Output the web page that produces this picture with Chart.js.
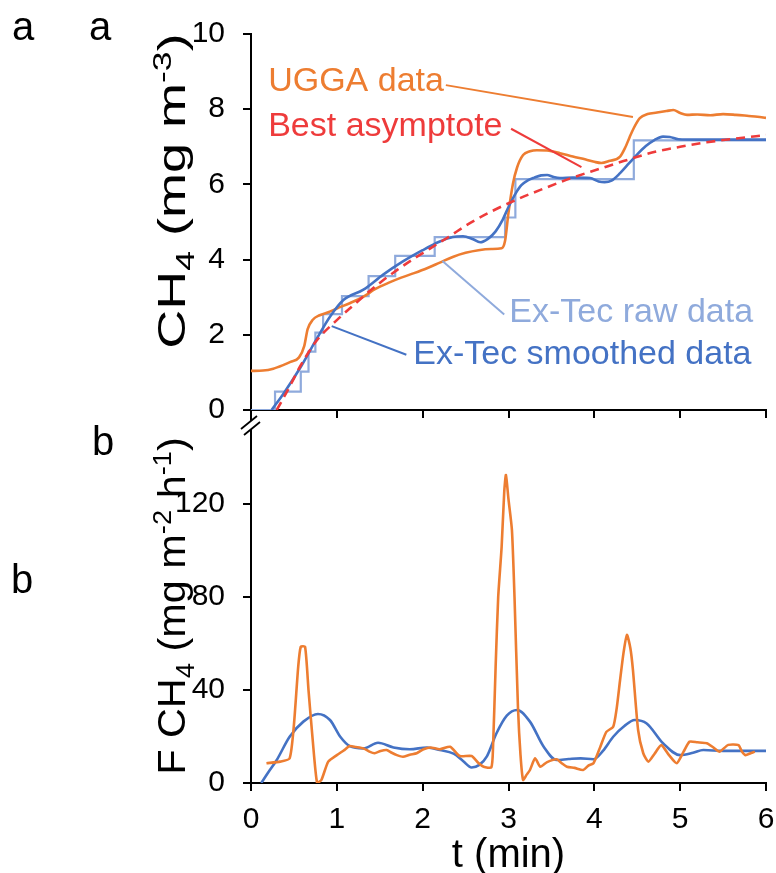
<!DOCTYPE html>
<html>
<head>
<meta charset="utf-8">
<script src="https://cdn.jsdelivr.net/npm/chart.js@4.4.1/dist/chart.umd.min.js"></script>
<style>
  html, body { margin: 0; padding: 0; background: #fff; }
  #wrap { position: relative; width: 776px; height: 873px; overflow: hidden; font-family: "Liberation Sans", Arial, sans-serif; }
  #wrap canvas { position: absolute; left: 0; }
  .panel { position: absolute; font-size: 40px; line-height: 1; color: #000; }
  .ytitle { position: absolute; font-size: 38px; line-height: 1; white-space: nowrap; color: #000; }
  .ytitle sub, .ytitle sup { font-size: 0.66em; line-height: 0; }
</style>
</head>
<body>
<div id="wrap">
  <canvas id="topChart" width="776" height="440" style="top:0"></canvas>
  <canvas id="fluxChart" width="776" height="461" style="top:412px"></canvas>
  <div class="panel" style="left:12px; top:6px">a</div>
  <div class="panel" style="left:89px; top:6px">a</div>
  <div class="panel" style="left:92px; top:421px">b</div>
  <div class="panel" style="left:11px; top:559px">b</div>
  <div class="ytitle" style="left:172px; top:191px; transform: translate(-50%, -50%) rotate(-90deg) scaleX(1.42)">CH<sub>4</sub> (mg m<sup>-3</sup>)</div>
  <div class="ytitle" style="left:172px; top:606px; transform: translate(-50%, -50%) rotate(-90deg) scaleX(1.09)">F CH<sub>4</sub> (mg m<sup>-2</sup> h<sup>-1</sup>)</div>
</div>
<script>
// time axis (min)
const xTicks = [0, 1, 2, 3, 4, 5, 6];
const concTicks = [0, 2, 4, 6, 8, 10];
const fluxTicks = [0, 40, 80, 120];

// panel a: CH4 concentration (mg m-3)
const uggaT = [0, 0.14, 0.26, 0.38, 0.46, 0.56, 0.62, 0.66, 0.72, 0.8, 0.9, 1.0, 1.15, 1.3, 1.45, 1.6, 1.75, 1.9, 2.05, 2.2, 2.35, 2.5, 2.65, 2.8, 2.92, 2.96, 3.0, 3.05, 3.1, 3.17, 3.25, 3.33, 3.45, 3.6, 3.75, 3.9, 4.0, 4.08, 4.17, 4.3, 4.36, 4.41, 4.46, 4.53, 4.62, 4.73, 4.84, 4.92, 5.0, 5.08, 5.2, 5.35, 5.5, 5.65, 5.8, 5.9, 6.0];
const uggaV = [1.04, 1.05, 1.1, 1.2, 1.28, 1.4, 1.7, 2.15, 2.4, 2.52, 2.6, 2.7, 2.84, 3.0, 3.22, 3.38, 3.52, 3.64, 3.77, 3.92, 4.07, 4.18, 4.25, 4.28, 4.3, 4.5, 5.25, 6.0, 6.45, 6.78, 6.88, 6.91, 6.9, 6.83, 6.74, 6.66, 6.6, 6.57, 6.62, 6.74, 6.98, 7.25, 7.5, 7.76, 7.87, 7.91, 7.95, 7.98, 7.9, 7.85, 7.86, 7.84, 7.87, 7.85, 7.82, 7.8, 7.77];

const rawT = [0, 0.28, 0.58, 0.67, 0.75, 0.84, 1.06, 1.37, 1.68, 2.14, 2.96, 3.08, 4.46, 6.0];
const rawV = [0, 0.49, 1.02, 1.55, 2.06, 2.55, 3.03, 3.56, 4.1, 4.6, 5.12, 6.14, 7.17, 7.17];

const smoothT = [0.24, 0.38, 0.57, 0.77, 0.92, 1.08, 1.31, 1.54, 1.77, 2.0, 2.2, 2.35, 2.47, 2.58, 2.67, 2.76, 2.85, 2.93, 3.0, 3.08, 3.15, 3.22, 3.3, 3.38, 3.45, 3.52, 3.6, 3.75, 3.95, 4.05, 4.12, 4.2, 4.3, 4.4, 4.5, 4.6, 4.7, 4.8, 4.88, 4.98, 5.2, 5.5, 6.0];
const smoothV = [0, 0.44, 1.11, 1.91, 2.48, 2.93, 3.2, 3.6, 3.95, 4.25, 4.48, 4.6, 4.62, 4.55, 4.46, 4.55, 4.75, 5.05, 5.4, 5.75, 5.98, 6.1, 6.18, 6.24, 6.25, 6.2, 6.17, 6.18, 6.17, 6.08, 6.06, 6.1, 6.3, 6.55, 6.8, 7.02, 7.18, 7.27, 7.26, 7.2, 7.19, 7.19, 7.19];

const asymT = [0.3, 0.45, 0.57, 0.77, 1.0, 1.2, 1.35, 1.5, 1.7, 1.9, 2.09, 2.3, 2.55, 2.8, 3.13, 3.4, 3.72, 4.07, 4.34, 4.73, 5.0, 5.31, 5.65, 6.0];
const asymV = [0, 0.62, 1.15, 1.86, 2.39, 2.8, 3.1, 3.38, 3.72, 4.03, 4.3, 4.6, 4.97, 5.28, 5.63, 5.88, 6.16, 6.42, 6.62, 6.88, 7.0, 7.12, 7.22, 7.31];

// panel b: CH4 flux (mg m-2 h-1)
const fluxUggaT = [0.18, 0.34, 0.45, 0.5, 0.55, 0.58, 0.63, 0.67, 0.72, 0.77, 0.82, 0.9, 1.0, 1.08, 1.15, 1.22, 1.31, 1.38, 1.44, 1.51, 1.58, 1.64, 1.7, 1.77, 1.85, 1.93, 2.01, 2.09, 2.2, 2.32, 2.43, 2.57, 2.65, 2.71, 2.8, 2.82, 2.85, 2.88, 2.92, 2.95, 2.97, 3.0, 3.04, 3.07, 3.11, 3.14, 3.17, 3.21, 3.25, 3.31, 3.37, 3.45, 3.56, 3.62, 3.68, 3.77, 3.87, 3.93, 3.99, 4.07, 4.14, 4.22, 4.26, 4.3, 4.34, 4.38, 4.42, 4.45, 4.51, 4.57, 4.63, 4.7, 4.78, 4.87, 4.96, 5.04, 5.11, 5.2, 5.31, 5.38, 5.46, 5.56, 5.68, 5.72, 5.76, 5.82, 5.87];
const fluxUggaV = [8.5, 9.2, 10.6, 25, 50, 58.6, 58.6, 40, 18, 0, 1.3, 9.2, 12, 14, 15.9, 15.5, 14.9, 13.5, 12.8, 13.8, 14.2, 13, 12, 11.3, 12.2, 12.8, 14.5, 15.3, 14.5, 15.6, 11.6, 11.6, 8.6, 7, 6.7, 15.6, 50, 80, 101.6, 125, 132.5, 122, 108.8, 80, 32.8, 12, 1.3, 3.5, 5.6, 10.6, 7, 9, 10.2, 8.5, 7, 6.5, 5.6, 7.5, 8.5, 15.6, 22, 24.2, 32, 44.3, 56, 63.7, 58, 48.6, 22.8, 12.8, 9.2, 12.5, 16.3, 12, 8.5, 13.5, 17.8, 17.5, 17.1, 15.5, 13.5, 16.4, 16.3, 13.5, 12, 12.8, 13.5];

const fluxSmoothT = [0.12, 0.2, 0.3, 0.45, 0.61, 0.78, 0.92, 1.04, 1.15, 1.31, 1.48, 1.66, 1.85, 2.05, 2.2, 2.36, 2.47, 2.57, 2.66, 2.75, 2.86, 2.98, 3.1, 3.25, 3.41, 3.56, 3.7, 3.84, 3.99, 4.1, 4.22, 4.35, 4.47, 4.61, 4.8, 5.0, 5.15, 5.27, 5.5, 6.0];
const fluxSmoothV = [0, 4.5, 9.9, 19.9, 26.4, 29.7, 27.1, 19.9, 15.9, 14.9, 17.3, 15.3, 14.5, 15.3, 14.2, 12.6, 9.5, 6.7, 7.8, 11.6, 21.4, 29, 31.4, 26.4, 15.6, 9.9, 10.3, 10.6, 10.2, 13.8, 19.9, 24.5, 27.1, 25.6, 17.1, 12, 13, 14.2, 13.8, 13.8];

const ORANGE = '#ED7D31';
const BLUE = '#4472C4';
const LIGHT = '#8FAADC';
const RED = '#EE3B3B';
const FONT = '"Liberation Sans", Arial, sans-serif';

// callouts on panel a, in data units
const callouts = [
  { text: 'UGGA data', color: ORANGE, at: [0.2, 8.73], from: [2.27, 8.64], to: [4.45, 7.79] },
  { text: 'Best asymptote', color: RED, at: [0.2, 7.53], from: [3.03, 7.48], to: [3.85, 6.46] },
  { text: 'Ex-Tec raw data', color: LIGHT, at: [3.01, 2.58], from: [2.95, 2.54], to: [2.23, 3.96] },
  { text: 'Ex-Tec smoothed data', color: BLUE, at: [1.89, 1.47], from: [1.81, 1.47], to: [0.94, 2.23] }
];

function pts(ts, vs) {
  return ts.map((t, i) => ({ x: t, y: vs[i] }));
}

const calloutPlugin = {
  id: 'callouts',
  afterDatasetsDraw(chart) {
    const { ctx, scales: { x, y } } = chart;
    ctx.save();
    ctx.font = '34px ' + FONT;
    ctx.textBaseline = 'middle';
    callouts.forEach(c => {
      ctx.strokeStyle = c.color;
      ctx.lineWidth = 2;
      ctx.beginPath();
      ctx.moveTo(x.getPixelForValue(c.from[0]), y.getPixelForValue(c.from[1]));
      ctx.lineTo(x.getPixelForValue(c.to[0]), y.getPixelForValue(c.to[1]));
      ctx.stroke();
      ctx.fillStyle = c.color;
      ctx.fillText(c.text, x.getPixelForValue(c.at[0]), y.getPixelForValue(c.at[1]));
    });
    ctx.restore();
  }
};

// axis break marks under panel a
const breakPlugin = {
  id: 'axisBreak',
  afterDraw(chart) {
    const { ctx, chartArea: { left, bottom } } = chart;
    ctx.save();
    ctx.strokeStyle = '#000';
    ctx.lineWidth = 2;
    ctx.beginPath();
    ctx.moveTo(left, bottom);
    ctx.lineTo(left, bottom + 23);
    ctx.stroke();
    ctx.fillStyle = '#fff';
    ctx.beginPath();
    ctx.moveTo(left - 10, bottom + 19);
    ctx.lineTo(left + 6, bottom + 6);
    ctx.lineTo(left + 9, bottom + 12);
    ctx.lineTo(left - 7, bottom + 25);
    ctx.closePath();
    ctx.fill();
    ctx.lineWidth = 1.8;
    ctx.beginPath();
    ctx.moveTo(left - 10, bottom + 19);
    ctx.lineTo(left + 6, bottom + 6);
    ctx.moveTo(left - 7, bottom + 25);
    ctx.lineTo(left + 9, bottom + 12);
    ctx.stroke();
    ctx.restore();
  }
};

const axisLines = {
  grid: { drawOnChartArea: false, drawTicks: true, tickLength: 8, color: '#000', lineWidth: 2 },
  border: { display: true, color: '#000', width: 2 }
};

function fixX(h) {
  return s => { s.height = h; s.paddingLeft = 0; s.paddingRight = 0; };
}
function fixY(s) {
  s.width = 251; s.paddingTop = 0; s.paddingBottom = 0;
}

new Chart(document.getElementById('topChart'), {
  type: 'line',
  data: {
    datasets: [
      { label: 'Best asymptote', data: pts(asymT, asymV), borderColor: RED, borderWidth: 2.6, borderDash: [9, 6], cubicInterpolationMode: 'monotone' },
      { label: 'Ex-Tec smoothed data', data: pts(smoothT, smoothV), borderColor: BLUE, borderWidth: 2.6, cubicInterpolationMode: 'monotone' },
      { label: 'UGGA data', data: pts(uggaT, uggaV), borderColor: ORANGE, borderWidth: 2.6, cubicInterpolationMode: 'monotone' },
      { label: 'Ex-Tec raw data', data: pts(rawT, rawV), borderColor: LIGHT, borderWidth: 2.2, stepped: 'before' }
    ]
  },
  options: {
    responsive: false,
    animation: false,
    layout: { padding: { top: 34, right: 10, left: 0, bottom: 0 } },
    elements: { point: { radius: 0 } },
    plugins: { legend: { display: false }, tooltip: { enabled: false } },
    scales: {
      x: {
        type: 'linear', min: 0, max: 6,
        afterBuildTicks: s => { s.ticks = xTicks.map(v => ({ value: v })); },
        ticks: { display: false },
        ...axisLines,
        afterFit: fixX(30)
      },
      y: {
        min: 0, max: 10,
        afterBuildTicks: s => { s.ticks = concTicks.map(v => ({ value: v })); },
        ticks: { color: '#000', padding: 18, font: { size: 30, family: FONT } },
        ...axisLines,
        afterFit: fixY
      }
    }
  },
  plugins: [calloutPlugin, breakPlugin]
});

new Chart(document.getElementById('fluxChart'), {
  type: 'line',
  data: {
    datasets: [
      { label: 'UGGA flux', data: pts(fluxUggaT, fluxUggaV), borderColor: ORANGE, borderWidth: 2.6, tension: 0.2 },
      { label: 'Ex-Tec flux', data: pts(fluxSmoothT, fluxSmoothV), borderColor: BLUE, borderWidth: 2.6, cubicInterpolationMode: 'monotone' }
    ]
  },
  options: {
    responsive: false,
    animation: false,
    layout: { padding: { top: 20, right: 10, left: 0, bottom: 0 } },
    elements: { point: { radius: 0 } },
    plugins: { legend: { display: false }, tooltip: { enabled: false } },
    scales: {
      x: {
        type: 'linear', min: 0, max: 6,
        afterBuildTicks: s => { s.ticks = xTicks.map(v => ({ value: v })); },
        ticks: { color: '#000', padding: 11, font: { size: 30, family: FONT } },
        title: { display: true, text: 't (min)', color: '#000', font: { size: 40, family: FONT, lineHeight: 1 }, padding: { top: 0, bottom: -3 } },
        ...axisLines,
        afterFit: fixX(90)
      },
      y: {
        min: 0, max: 151,
        afterBuildTicks: s => { s.ticks = fluxTicks.map(v => ({ value: v })); },
        ticks: { color: '#000', padding: 18, font: { size: 30, family: FONT } },
        ...axisLines,
        afterFit: fixY
      }
    }
  }
});
</script>
</body>
</html>
